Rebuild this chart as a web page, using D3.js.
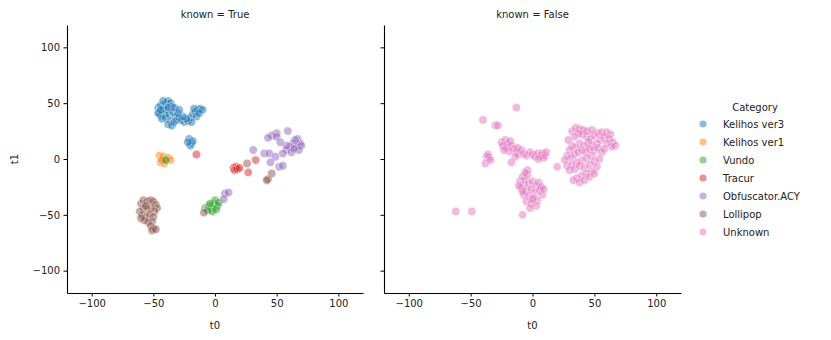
<!DOCTYPE html>
<html>
<head>
<meta charset="utf-8">
<script src="https://cdn.jsdelivr.net/npm/d3@7"></script>
<style>
  body { margin: 0; background: #fff; }
  text { font-family: "DejaVu Sans", sans-serif; }
</style>
</head>
<body>
<svg id="chart" width="831" height="340"></svg>
<script>
var categories = ["Kelihos ver3", "Kelihos ver1", "Vundo", "Tracur", "Obfuscator.ACY", "Lollipop", "Unknown"];
var colors = ["#1f77b4", "#ff7f0e", "#2ca02c", "#d62728", "#9467bd", "#8c564b", "#e377c2"];
var panels = ["known = True", "known = False"];
var ticks = [-100, -50, 0, 50, 100];

// t0, t1 pairs per category
var kelihos3 = [[-46,46],[-45,42],[-44,48],[-42,45],[-40,50],[-38,52],[-36,50],[-35,47],[-39,44],[-41,40],
  [-44,39],[-46,41],[-43,36],[-40,37],[-37,40],[-34,42],[-32,38],[-36,34],[-38,31],[-35,30],[-33,33],[-31,35],
  [-29,37],[-27,35],[-25,33],[-22,34],[-20,37],[-18,40],[-16,42],[-14,44],[-12,45],[-10,44],[-15,38],[-19,33],
  [-23,36],[-26,38],[-30,41],[-42,52],[-44,44],[-38,46],[-33,46],[-29,44],[-17,45],[-13,41],[-21,18],[-19,14],
  [-20,12],[-18,16],[-22,15]];
var kelihos1 = [[-45,3],[-43,0],[-44,-3],[-42,2],[-40,-1],[-38,1],[-41,-4],[-36,-1],[-43,-1]];
var vundo = [[-40,-1],[-8,-44],[-5,-42],[-3,-45],[-1,-40],[0,-37],[2,-42],[-2,-47],[-6,-46],[-4,-40],[1,-45],[3,-39]];
var tracur = [[-15,4],[15,-8],[17,-7],[16,-10],[18,-9],[33,-1],[27,-12],[20,-8]];
var obfuscator = [[59,25],[50,23],[46,21],[43,19],[50,20],[67,18],[63,14],[69,14],[66,11],[70,12],[61,11],[58,8],
  [55,5],[62,6],[58,12],[53,15],[31,8],[40,5],[44,5],[49,2],[45,-3],[52,-7],[55,-6],[8,-31],[11,-30],[7,-36],
  [65,17],[68,8],[64,9]];
var lollipop = [[-60,-40],[-58,-37],[-55,-38],[-52,-37],[-50,-38],[-48,-41],[-47,-44],[-49,-47],[-52,-44],[-55,-45],
  [-58,-44],[-61,-47],[-59,-50],[-56,-52],[-53,-50],[-50,-52],[-51,-56],[-54,-57],[-57,-55],[-60,-53],[-52,-60],
  [-50,-62],[-51,-64],[-48,-63],[-56,-42],[-9,-48],[26,-4],[46,-13],[43,-18],[42,-19]];
var unknown = [[-25,15],[-22,17],[-20,14],[-18,16],[-24,12],[-21,10],[-17,12],[-15,9],[-19,7],[-23,8],[-13,6],[-11,4],
  [-14,2],[-17,-3],[-12,10],[-9,8],[-7,5],[-5,3],[-2,6],[0,4],[2,2],[4,5],[6,3],[8,5],[10,3],[11,6],[9,1],[5,0],
  [-37,2],[-35,1],[-38,-4],[-36,4],[-34,-1],[-13,46],[-40,35],[-30,30],[-28,30],[20,-7],[-62,-47],[-49,-47],[-8,-50],
  [-10,-20],[-8,-16],[-6,-18],[-4,-14],[-7,-23],[-3,-22],[0,-20],[3,-24],[5,-21],[-9,-26],[-5,-28],[-1,-27],[2,-30],
  [6,-28],[8,-32],[-7,-32],[-3,-33],[1,-35],[4,-37],[-5,-38],[-1,-40],[3,-42],[-2,-44],[0,-36],[-8,-29],[7,-25],
  [-11,-24],[9,-27],[-4,-10],[-6,-12],
  [32,25],[35,28],[38,27],[41,26],[37,23],[34,20],[40,22],[44,20],[47,18],[50,21],[53,23],[56,24],[60,24],[63,22],
  [58,20],[55,17],[62,18],[65,15],[67,12],[64,11],[60,14],[52,14],[48,12],[45,15],[42,12],[38,14],[35,10],[32,12],
  [30,8],[28,3],[31,1],[34,4],[37,6],[40,8],[43,6],[46,9],[50,8],[53,10],[56,6],[58,9],[48,3],[44,1],[40,-1],[36,-3],
  [32,-5],[28,-6],[30,-10],[34,-9],[38,-6],[42,-8],[46,-5],[50,-2],[54,0],[52,-7],[48,-11],[44,-13],[40,-15],
  [36,-17],[33,-19],[38,-21],[42,-19],[46,-16],[50,-13],[26,-1],[29,17],[44,25],[48,26]];

var known = [kelihos3, kelihos1, vundo, tracur, obfuscator, lollipop];

var svg = d3.select("#chart");
var panelX = [[67, 363], [384, 681]];
var plotTop = 25, plotBottom = 293, r = 4.2;

var y = d3.scaleLinear().domain([-120, 120]).range([plotBottom, plotTop]);

panels.forEach(function (title, p) {
  var x = d3.scaleLinear().domain([-120, 120]).range(panelX[p]);
  var g = svg.append("g");

  var xAxis = g.append("g")
    .attr("transform", "translate(0," + plotBottom + ")")
    .call(d3.axisBottom(x).tickValues(ticks).tickSizeInner(3.5).tickSizeOuter(0).tickPadding(3.5));
  var yAxis = g.append("g")
    .attr("transform", "translate(" + panelX[p][0] + ",0)")
    .call(d3.axisLeft(y).tickValues(ticks).tickSizeInner(3.5).tickSizeOuter(0).tickPadding(3.5));
  if (p == 1) yAxis.selectAll("text").remove();

  [xAxis, yAxis].forEach(function (a) {
    a.select(".domain").attr("stroke", "#000").attr("stroke-width", 1.1);
    a.selectAll("line").attr("stroke", "#000").attr("stroke-width", 1);
    a.selectAll("text").attr("font-size", "10px").attr("fill", "#222");
  });

  g.append("text")
    .attr("x", (panelX[p][0] + panelX[p][1]) / 2)
    .attr("y", 18)
    .attr("text-anchor", "middle")
    .attr("font-size", "10px")
    .attr("fill", "#222")
    .text(title);

  g.append("text")
    .attr("x", (panelX[p][0] + panelX[p][1]) / 2)
    .attr("y", 329)
    .attr("text-anchor", "middle")
    .attr("font-size", "10px")
    .attr("fill", "#222")
    .text("t0");

  var sets = p == 0 ? known.map(function (d, i) { return {pts: d, c: colors[i]}; })
                    : [{pts: unknown, c: colors[6]}];
  sets.forEach(function (s) {
    g.append("g").selectAll("circle")
      .data(s.pts)
      .join("circle")
      .attr("cx", function (d) { return x(d[0]); })
      .attr("cy", function (d) { return y(d[1]); })
      .attr("r", r)
      .attr("fill", s.c)
      .attr("fill-opacity", 0.5)
      .attr("stroke", "#fff")
      .attr("stroke-opacity", 0.5)
      .attr("stroke-width", 0.8);
  });
});

svg.append("text")
  .attr("transform", "translate(18,159) rotate(-90)")
  .attr("text-anchor", "middle")
  .attr("font-size", "10px")
  .attr("fill", "#222")
  .text("t1");

// legend
var legend = svg.append("g").attr("transform", "translate(703,0)");
legend.append("text")
  .attr("x", 52)
  .attr("y", 111)
  .attr("text-anchor", "middle")
  .attr("font-size", "10px")
  .attr("fill", "#222")
  .text("Category");

categories.forEach(function (c, i) {
  var row = legend.append("g").attr("transform", "translate(0," + (124 + i * 18) + ")");
  row.append("circle")
    .attr("r", 3.6)
    .attr("fill", colors[i])
    .attr("fill-opacity", 0.5);
  row.append("text")
    .attr("x", 20)
    .attr("y", 3.5)
    .attr("font-size", "10px")
    .attr("fill", "#222")
    .text(c);
});
</script>
</body>
</html>
